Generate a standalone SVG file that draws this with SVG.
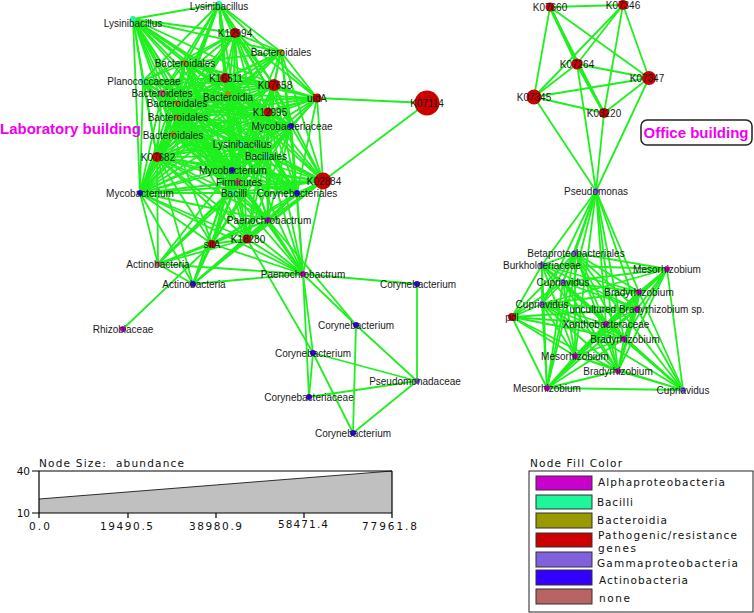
<svg xmlns="http://www.w3.org/2000/svg" width="754" height="613" viewBox="0 0 754 613">
<style>
.e line{stroke:#1EF01E;stroke-width:1.8;fill:none}
text{font-family:"Liberation Sans",Arial,sans-serif}
.node text{font-size:10px;fill:#1a1a1a;text-anchor:middle}
.al{fill:#CC00CC}.ba{fill:#1FF59B}.bd{fill:#999900}.pg{fill:#CC0000}.gm{fill:#8060DD}.ac{fill:#3300FF}.no{fill:#B86464}
text.lg{font-family:"DejaVu Sans","Liberation Sans",sans-serif;font-size:10.5px;fill:#111}
.ax{stroke:#000;stroke-width:1.2;fill:none}
.sw{stroke:#333;stroke-width:1}
</style>
<rect width="754" height="613" fill="#fff"/>
<g id="connectors" class="e">
<line x1="219" y1="4" x2="133" y2="19"/><line x1="219" y1="4" x2="235" y2="33"/><line x1="219" y1="4" x2="281" y2="52"/><line x1="219" y1="4" x2="185" y2="63"/><line x1="219" y1="4" x2="225" y2="78"/><line x1="219" y1="4" x2="274" y2="85"/><line x1="219" y1="4" x2="317" y2="98"/><line x1="219" y1="4" x2="143" y2="81"/><line x1="219" y1="4" x2="162" y2="93"/><line x1="219" y1="4" x2="228" y2="94"/><line x1="219" y1="4" x2="177" y2="103"/><line x1="219" y1="4" x2="177" y2="117"/><line x1="219" y1="4" x2="173" y2="134"/><line x1="219" y1="4" x2="268" y2="112"/><line x1="219" y1="4" x2="291" y2="126"/><line x1="219" y1="4" x2="242" y2="144"/><line x1="219" y1="4" x2="157" y2="157"/><line x1="219" y1="4" x2="232" y2="170"/><line x1="219" y1="4" x2="140" y2="193"/><line x1="219" y1="4" x2="233" y2="193"/>
<line x1="133" y1="19" x2="235" y2="33"/><line x1="133" y1="19" x2="185" y2="63"/><line x1="133" y1="19" x2="225" y2="78"/><line x1="133" y1="19" x2="274" y2="85"/><line x1="133" y1="19" x2="281" y2="52"/><line x1="133" y1="19" x2="143" y2="81"/><line x1="133" y1="19" x2="162" y2="93"/><line x1="133" y1="19" x2="228" y2="94"/><line x1="133" y1="19" x2="177" y2="103"/><line x1="133" y1="19" x2="177" y2="117"/><line x1="133" y1="19" x2="173" y2="134"/><line x1="133" y1="19" x2="268" y2="112"/><line x1="133" y1="19" x2="291" y2="126"/><line x1="133" y1="19" x2="242" y2="144"/><line x1="133" y1="19" x2="266" y2="156"/><line x1="133" y1="19" x2="157" y2="157"/><line x1="133" y1="19" x2="232" y2="170"/><line x1="133" y1="19" x2="140" y2="193"/><line x1="133" y1="19" x2="233" y2="193"/><line x1="133" y1="19" x2="238" y2="182"/>
<line x1="235" y1="33" x2="281" y2="52"/><line x1="235" y1="33" x2="185" y2="63"/><line x1="235" y1="33" x2="225" y2="78"/><line x1="235" y1="33" x2="274" y2="85"/><line x1="235" y1="33" x2="317" y2="98"/><line x1="235" y1="33" x2="143" y2="81"/><line x1="235" y1="33" x2="162" y2="93"/><line x1="235" y1="33" x2="228" y2="94"/><line x1="235" y1="33" x2="177" y2="103"/><line x1="235" y1="33" x2="177" y2="117"/><line x1="235" y1="33" x2="173" y2="134"/><line x1="235" y1="33" x2="268" y2="112"/><line x1="235" y1="33" x2="291" y2="126"/><line x1="235" y1="33" x2="242" y2="144"/><line x1="235" y1="33" x2="266" y2="156"/><line x1="235" y1="33" x2="157" y2="157"/><line x1="235" y1="33" x2="232" y2="170"/><line x1="235" y1="33" x2="140" y2="193"/><line x1="235" y1="33" x2="233" y2="193"/>
<line x1="281" y1="52" x2="225" y2="78"/><line x1="281" y1="52" x2="274" y2="85"/><line x1="281" y1="52" x2="317" y2="98"/><line x1="281" y1="52" x2="228" y2="94"/><line x1="281" y1="52" x2="177" y2="103"/><line x1="281" y1="52" x2="177" y2="117"/><line x1="281" y1="52" x2="268" y2="112"/><line x1="281" y1="52" x2="291" y2="126"/><line x1="281" y1="52" x2="242" y2="144"/><line x1="281" y1="52" x2="157" y2="157"/><line x1="281" y1="52" x2="323" y2="181"/><line x1="281" y1="52" x2="140" y2="193"/><line x1="281" y1="52" x2="185" y2="63"/><line x1="281" y1="52" x2="297" y2="193"/>
<line x1="185" y1="63" x2="225" y2="78"/><line x1="185" y1="63" x2="274" y2="85"/><line x1="185" y1="63" x2="143" y2="81"/><line x1="185" y1="63" x2="162" y2="93"/><line x1="185" y1="63" x2="228" y2="94"/><line x1="185" y1="63" x2="177" y2="103"/><line x1="185" y1="63" x2="177" y2="117"/><line x1="185" y1="63" x2="173" y2="134"/><line x1="185" y1="63" x2="268" y2="112"/><line x1="185" y1="63" x2="291" y2="126"/><line x1="185" y1="63" x2="242" y2="144"/><line x1="185" y1="63" x2="266" y2="156"/><line x1="185" y1="63" x2="157" y2="157"/><line x1="185" y1="63" x2="232" y2="170"/><line x1="185" y1="63" x2="140" y2="193"/><line x1="185" y1="63" x2="233" y2="193"/><line x1="185" y1="63" x2="238" y2="182"/><line x1="185" y1="63" x2="317" y2="98"/>
<line x1="225" y1="78" x2="274" y2="85"/><line x1="225" y1="78" x2="317" y2="98"/><line x1="225" y1="78" x2="143" y2="81"/><line x1="225" y1="78" x2="162" y2="93"/><line x1="225" y1="78" x2="228" y2="94"/><line x1="225" y1="78" x2="177" y2="103"/><line x1="225" y1="78" x2="177" y2="117"/><line x1="225" y1="78" x2="173" y2="134"/><line x1="225" y1="78" x2="268" y2="112"/><line x1="225" y1="78" x2="291" y2="126"/><line x1="225" y1="78" x2="242" y2="144"/><line x1="225" y1="78" x2="266" y2="156"/><line x1="225" y1="78" x2="157" y2="157"/><line x1="225" y1="78" x2="232" y2="170"/><line x1="225" y1="78" x2="140" y2="193"/><line x1="225" y1="78" x2="238" y2="182"/><line x1="225" y1="78" x2="233" y2="193"/><line x1="225" y1="78" x2="323" y2="181"/><line x1="225" y1="78" x2="297" y2="193"/>
<line x1="274" y1="85" x2="317" y2="98"/><line x1="274" y1="85" x2="143" y2="81"/><line x1="274" y1="85" x2="162" y2="93"/><line x1="274" y1="85" x2="228" y2="94"/><line x1="274" y1="85" x2="177" y2="103"/><line x1="274" y1="85" x2="177" y2="117"/><line x1="274" y1="85" x2="173" y2="134"/><line x1="274" y1="85" x2="268" y2="112"/><line x1="274" y1="85" x2="291" y2="126"/><line x1="274" y1="85" x2="242" y2="144"/><line x1="274" y1="85" x2="266" y2="156"/><line x1="274" y1="85" x2="157" y2="157"/><line x1="274" y1="85" x2="232" y2="170"/><line x1="274" y1="85" x2="140" y2="193"/><line x1="274" y1="85" x2="238" y2="182"/><line x1="274" y1="85" x2="233" y2="193"/><line x1="274" y1="85" x2="323" y2="181"/><line x1="274" y1="85" x2="297" y2="193"/><line x1="274" y1="85" x2="268" y2="220"/>
<line x1="317" y1="98" x2="228" y2="94"/><line x1="317" y1="98" x2="177" y2="103"/><line x1="317" y1="98" x2="177" y2="117"/><line x1="317" y1="98" x2="268" y2="112"/><line x1="317" y1="98" x2="291" y2="126"/><line x1="317" y1="98" x2="242" y2="144"/><line x1="317" y1="98" x2="266" y2="156"/><line x1="317" y1="98" x2="232" y2="170"/><line x1="317" y1="98" x2="323" y2="181"/><line x1="317" y1="98" x2="297" y2="193"/><line x1="317" y1="98" x2="233" y2="193"/><line x1="317" y1="98" x2="427" y2="103"/><line x1="317" y1="98" x2="173" y2="134"/><line x1="317" y1="98" x2="157" y2="157"/>
<line x1="143" y1="81" x2="162" y2="93"/><line x1="143" y1="81" x2="228" y2="94"/><line x1="143" y1="81" x2="177" y2="103"/><line x1="143" y1="81" x2="177" y2="117"/><line x1="143" y1="81" x2="173" y2="134"/><line x1="143" y1="81" x2="268" y2="112"/><line x1="143" y1="81" x2="291" y2="126"/><line x1="143" y1="81" x2="242" y2="144"/><line x1="143" y1="81" x2="266" y2="156"/><line x1="143" y1="81" x2="157" y2="157"/><line x1="143" y1="81" x2="232" y2="170"/><line x1="143" y1="81" x2="140" y2="193"/><line x1="143" y1="81" x2="238" y2="182"/><line x1="143" y1="81" x2="233" y2="193"/>
<line x1="162" y1="93" x2="228" y2="94"/><line x1="162" y1="93" x2="177" y2="103"/><line x1="162" y1="93" x2="177" y2="117"/><line x1="162" y1="93" x2="173" y2="134"/><line x1="162" y1="93" x2="268" y2="112"/><line x1="162" y1="93" x2="291" y2="126"/><line x1="162" y1="93" x2="242" y2="144"/><line x1="162" y1="93" x2="266" y2="156"/><line x1="162" y1="93" x2="157" y2="157"/><line x1="162" y1="93" x2="232" y2="170"/><line x1="162" y1="93" x2="140" y2="193"/><line x1="162" y1="93" x2="238" y2="182"/><line x1="162" y1="93" x2="233" y2="193"/><line x1="162" y1="93" x2="297" y2="193"/><line x1="162" y1="93" x2="323" y2="181"/>
<line x1="228" y1="94" x2="177" y2="103"/><line x1="228" y1="94" x2="177" y2="117"/><line x1="228" y1="94" x2="173" y2="134"/><line x1="228" y1="94" x2="268" y2="112"/><line x1="228" y1="94" x2="291" y2="126"/><line x1="228" y1="94" x2="242" y2="144"/><line x1="228" y1="94" x2="266" y2="156"/><line x1="228" y1="94" x2="157" y2="157"/><line x1="228" y1="94" x2="232" y2="170"/><line x1="228" y1="94" x2="140" y2="193"/><line x1="228" y1="94" x2="238" y2="182"/><line x1="228" y1="94" x2="233" y2="193"/><line x1="228" y1="94" x2="297" y2="193"/><line x1="228" y1="94" x2="323" y2="181"/><line x1="228" y1="94" x2="268" y2="220"/>
<line x1="177" y1="103" x2="177" y2="117"/><line x1="177" y1="103" x2="173" y2="134"/><line x1="177" y1="103" x2="268" y2="112"/><line x1="177" y1="103" x2="291" y2="126"/><line x1="177" y1="103" x2="242" y2="144"/><line x1="177" y1="103" x2="266" y2="156"/><line x1="177" y1="103" x2="157" y2="157"/><line x1="177" y1="103" x2="232" y2="170"/><line x1="177" y1="103" x2="140" y2="193"/><line x1="177" y1="103" x2="238" y2="182"/><line x1="177" y1="103" x2="233" y2="193"/><line x1="177" y1="103" x2="297" y2="193"/><line x1="177" y1="103" x2="323" y2="181"/><line x1="177" y1="103" x2="268" y2="220"/>
<line x1="177" y1="117" x2="173" y2="134"/><line x1="177" y1="117" x2="268" y2="112"/><line x1="177" y1="117" x2="291" y2="126"/><line x1="177" y1="117" x2="242" y2="144"/><line x1="177" y1="117" x2="266" y2="156"/><line x1="177" y1="117" x2="157" y2="157"/><line x1="177" y1="117" x2="232" y2="170"/><line x1="177" y1="117" x2="140" y2="193"/><line x1="177" y1="117" x2="238" y2="182"/><line x1="177" y1="117" x2="233" y2="193"/><line x1="177" y1="117" x2="297" y2="193"/><line x1="177" y1="117" x2="323" y2="181"/><line x1="177" y1="117" x2="268" y2="220"/><line x1="177" y1="117" x2="247" y2="239"/>
<line x1="173" y1="134" x2="268" y2="112"/><line x1="173" y1="134" x2="291" y2="126"/><line x1="173" y1="134" x2="242" y2="144"/><line x1="173" y1="134" x2="266" y2="156"/><line x1="173" y1="134" x2="157" y2="157"/><line x1="173" y1="134" x2="232" y2="170"/><line x1="173" y1="134" x2="140" y2="193"/><line x1="173" y1="134" x2="238" y2="182"/><line x1="173" y1="134" x2="233" y2="193"/><line x1="173" y1="134" x2="297" y2="193"/><line x1="173" y1="134" x2="323" y2="181"/><line x1="173" y1="134" x2="268" y2="220"/><line x1="173" y1="134" x2="212" y2="244"/>
<line x1="268" y1="112" x2="291" y2="126"/><line x1="268" y1="112" x2="242" y2="144"/><line x1="268" y1="112" x2="266" y2="156"/><line x1="268" y1="112" x2="157" y2="157"/><line x1="268" y1="112" x2="232" y2="170"/><line x1="268" y1="112" x2="140" y2="193"/><line x1="268" y1="112" x2="238" y2="182"/><line x1="268" y1="112" x2="233" y2="193"/><line x1="268" y1="112" x2="297" y2="193"/><line x1="268" y1="112" x2="323" y2="181"/><line x1="268" y1="112" x2="268" y2="220"/><line x1="268" y1="112" x2="212" y2="244"/><line x1="268" y1="112" x2="247" y2="239"/><line x1="268" y1="112" x2="303" y2="274"/>
<line x1="291" y1="126" x2="242" y2="144"/><line x1="291" y1="126" x2="266" y2="156"/><line x1="291" y1="126" x2="157" y2="157"/><line x1="291" y1="126" x2="232" y2="170"/><line x1="291" y1="126" x2="140" y2="193"/><line x1="291" y1="126" x2="238" y2="182"/><line x1="291" y1="126" x2="233" y2="193"/><line x1="291" y1="126" x2="297" y2="193"/><line x1="291" y1="126" x2="323" y2="181"/><line x1="291" y1="126" x2="268" y2="220"/><line x1="291" y1="126" x2="212" y2="244"/><line x1="291" y1="126" x2="247" y2="239"/><line x1="291" y1="126" x2="303" y2="274"/>
<line x1="242" y1="144" x2="266" y2="156"/><line x1="242" y1="144" x2="157" y2="157"/><line x1="242" y1="144" x2="232" y2="170"/><line x1="242" y1="144" x2="140" y2="193"/><line x1="242" y1="144" x2="238" y2="182"/><line x1="242" y1="144" x2="233" y2="193"/><line x1="242" y1="144" x2="297" y2="193"/><line x1="242" y1="144" x2="323" y2="181"/><line x1="242" y1="144" x2="268" y2="220"/><line x1="242" y1="144" x2="212" y2="244"/><line x1="242" y1="144" x2="247" y2="239"/><line x1="242" y1="144" x2="303" y2="274"/><line x1="242" y1="144" x2="193" y2="284"/>
<line x1="266" y1="156" x2="157" y2="157"/><line x1="266" y1="156" x2="232" y2="170"/><line x1="266" y1="156" x2="140" y2="193"/><line x1="266" y1="156" x2="238" y2="182"/><line x1="266" y1="156" x2="233" y2="193"/><line x1="266" y1="156" x2="297" y2="193"/><line x1="266" y1="156" x2="323" y2="181"/><line x1="266" y1="156" x2="268" y2="220"/><line x1="266" y1="156" x2="212" y2="244"/><line x1="266" y1="156" x2="247" y2="239"/><line x1="266" y1="156" x2="303" y2="274"/><line x1="266" y1="156" x2="158" y2="264"/>
<line x1="157" y1="157" x2="232" y2="170"/><line x1="157" y1="157" x2="140" y2="193"/><line x1="157" y1="157" x2="238" y2="182"/><line x1="157" y1="157" x2="233" y2="193"/><line x1="157" y1="157" x2="297" y2="193"/><line x1="157" y1="157" x2="323" y2="181"/><line x1="157" y1="157" x2="268" y2="220"/><line x1="157" y1="157" x2="212" y2="244"/><line x1="157" y1="157" x2="247" y2="239"/><line x1="157" y1="157" x2="158" y2="264"/><line x1="157" y1="157" x2="193" y2="284"/><line x1="157" y1="157" x2="303" y2="274"/>
<line x1="232" y1="170" x2="140" y2="193"/><line x1="232" y1="170" x2="238" y2="182"/><line x1="232" y1="170" x2="233" y2="193"/><line x1="232" y1="170" x2="297" y2="193"/><line x1="232" y1="170" x2="323" y2="181"/><line x1="232" y1="170" x2="268" y2="220"/><line x1="232" y1="170" x2="212" y2="244"/><line x1="232" y1="170" x2="247" y2="239"/><line x1="232" y1="170" x2="158" y2="264"/><line x1="232" y1="170" x2="193" y2="284"/><line x1="232" y1="170" x2="303" y2="274"/>
<line x1="140" y1="193" x2="238" y2="182"/><line x1="140" y1="193" x2="233" y2="193"/><line x1="140" y1="193" x2="297" y2="193"/><line x1="140" y1="193" x2="323" y2="181"/><line x1="140" y1="193" x2="268" y2="220"/><line x1="140" y1="193" x2="212" y2="244"/><line x1="140" y1="193" x2="247" y2="239"/><line x1="140" y1="193" x2="158" y2="264"/><line x1="140" y1="193" x2="193" y2="284"/><line x1="140" y1="193" x2="303" y2="274"/>
<line x1="238" y1="182" x2="233" y2="193"/><line x1="238" y1="182" x2="297" y2="193"/><line x1="238" y1="182" x2="323" y2="181"/><line x1="238" y1="182" x2="268" y2="220"/><line x1="238" y1="182" x2="212" y2="244"/><line x1="238" y1="182" x2="247" y2="239"/><line x1="238" y1="182" x2="158" y2="264"/><line x1="238" y1="182" x2="193" y2="284"/><line x1="238" y1="182" x2="303" y2="274"/>
<line x1="323" y1="181" x2="233" y2="193"/><line x1="323" y1="181" x2="297" y2="193"/><line x1="323" y1="181" x2="268" y2="220"/><line x1="323" y1="181" x2="212" y2="244"/><line x1="323" y1="181" x2="247" y2="239"/><line x1="323" y1="181" x2="303" y2="274"/><line x1="323" y1="181" x2="427" y2="103"/><line x1="323" y1="181" x2="193" y2="284"/>
<line x1="233" y1="193" x2="297" y2="193"/><line x1="233" y1="193" x2="268" y2="220"/><line x1="233" y1="193" x2="212" y2="244"/><line x1="233" y1="193" x2="247" y2="239"/><line x1="233" y1="193" x2="158" y2="264"/><line x1="233" y1="193" x2="193" y2="284"/><line x1="233" y1="193" x2="303" y2="274"/>
<line x1="297" y1="193" x2="268" y2="220"/><line x1="297" y1="193" x2="212" y2="244"/><line x1="297" y1="193" x2="247" y2="239"/><line x1="297" y1="193" x2="303" y2="274"/><line x1="297" y1="193" x2="193" y2="284"/>
<line x1="268" y1="220" x2="212" y2="244"/><line x1="268" y1="220" x2="247" y2="239"/><line x1="268" y1="220" x2="303" y2="274"/><line x1="268" y1="220" x2="158" y2="264"/><line x1="268" y1="220" x2="193" y2="284"/><line x1="268" y1="220" x2="356" y2="325"/>
<line x1="212" y1="244" x2="247" y2="239"/><line x1="212" y1="244" x2="158" y2="264"/><line x1="212" y1="244" x2="193" y2="284"/><line x1="212" y1="244" x2="303" y2="274"/><line x1="212" y1="244" x2="123" y2="329"/>
<line x1="247" y1="239" x2="158" y2="264"/><line x1="247" y1="239" x2="193" y2="284"/><line x1="247" y1="239" x2="303" y2="274"/><line x1="247" y1="239" x2="313" y2="353"/>
<line x1="158" y1="264" x2="193" y2="284"/><line x1="158" y1="264" x2="303" y2="274"/><line x1="193" y1="284" x2="303" y2="274"/>
<line x1="303" y1="274" x2="417" y2="284"/><line x1="303" y1="274" x2="356" y2="325"/><line x1="303" y1="274" x2="313" y2="353"/><line x1="303" y1="274" x2="309" y2="397"/>
<line x1="417" y1="284" x2="417" y2="381"/><line x1="356" y1="325" x2="417" y2="381"/><line x1="356" y1="325" x2="353" y2="433"/><line x1="313" y1="353" x2="417" y2="381"/><line x1="313" y1="353" x2="353" y2="433"/><line x1="313" y1="353" x2="309" y2="397"/><line x1="309" y1="397" x2="417" y2="381"/><line x1="417" y1="381" x2="353" y2="433"/>
<line x1="550" y1="7" x2="623" y2="5"/><line x1="550" y1="7" x2="577" y2="64" style="stroke-width:3"/><line x1="550" y1="7" x2="649" y2="78"/><line x1="550" y1="7" x2="534" y2="97"/><line x1="550" y1="7" x2="604" y2="113"/>
<line x1="623" y1="5" x2="577" y2="64"/><line x1="623" y1="5" x2="534" y2="97"/><line x1="623" y1="5" x2="649" y2="78"/><line x1="623" y1="5" x2="604" y2="113"/>
<line x1="577" y1="64" x2="649" y2="78"/><line x1="577" y1="64" x2="534" y2="97"/><line x1="577" y1="64" x2="604" y2="113" style="stroke-width:3"/><line x1="577" y1="64" x2="596" y2="191"/>
<line x1="534" y1="97" x2="649" y2="78"/><line x1="534" y1="97" x2="604" y2="113"/><line x1="534" y1="97" x2="596" y2="191"/>
<line x1="649" y1="78" x2="604" y2="113"/><line x1="649" y1="78" x2="596" y2="191"/><line x1="604" y1="113" x2="596" y2="191"/>
<line x1="596" y1="191" x2="542" y2="265"/><line x1="596" y1="191" x2="575" y2="253"/><line x1="596" y1="191" x2="563" y2="282"/><line x1="596" y1="191" x2="542" y2="304"/><line x1="596" y1="191" x2="575" y2="356"/><line x1="596" y1="191" x2="606" y2="324"/><line x1="596" y1="191" x2="618" y2="371"/><line x1="596" y1="191" x2="637" y2="309"/><line x1="596" y1="191" x2="639" y2="292"/><line x1="596" y1="191" x2="624" y2="339"/><line x1="596" y1="191" x2="547" y2="388"/>
<line x1="575" y1="253" x2="542" y2="265"/><line x1="575" y1="253" x2="667" y2="269"/><line x1="575" y1="253" x2="563" y2="282"/><line x1="575" y1="253" x2="639" y2="292"/><line x1="575" y1="253" x2="542" y2="304"/><line x1="575" y1="253" x2="637" y2="309"/><line x1="575" y1="253" x2="512" y2="317"/><line x1="575" y1="253" x2="606" y2="324"/><line x1="575" y1="253" x2="624" y2="339"/><line x1="575" y1="253" x2="575" y2="356"/><line x1="575" y1="253" x2="618" y2="371"/><line x1="575" y1="253" x2="547" y2="388"/><line x1="575" y1="253" x2="683" y2="390"/>
<line x1="542" y1="265" x2="667" y2="269"/><line x1="542" y1="265" x2="563" y2="282"/><line x1="542" y1="265" x2="639" y2="292"/><line x1="542" y1="265" x2="542" y2="304"/><line x1="542" y1="265" x2="637" y2="309"/><line x1="542" y1="265" x2="512" y2="317"/><line x1="542" y1="265" x2="606" y2="324"/><line x1="542" y1="265" x2="624" y2="339"/><line x1="542" y1="265" x2="575" y2="356"/><line x1="542" y1="265" x2="618" y2="371"/><line x1="542" y1="265" x2="547" y2="388"/><line x1="542" y1="265" x2="683" y2="390"/>
<line x1="667" y1="269" x2="563" y2="282"/><line x1="667" y1="269" x2="639" y2="292"/><line x1="667" y1="269" x2="542" y2="304"/><line x1="667" y1="269" x2="637" y2="309"/><line x1="667" y1="269" x2="606" y2="324"/><line x1="667" y1="269" x2="624" y2="339"/><line x1="667" y1="269" x2="575" y2="356"/><line x1="667" y1="269" x2="618" y2="371"/><line x1="667" y1="269" x2="547" y2="388"/><line x1="667" y1="269" x2="683" y2="390"/>
<line x1="563" y1="282" x2="639" y2="292"/><line x1="563" y1="282" x2="542" y2="304"/><line x1="563" y1="282" x2="637" y2="309"/><line x1="563" y1="282" x2="512" y2="317"/><line x1="563" y1="282" x2="606" y2="324"/><line x1="563" y1="282" x2="624" y2="339"/><line x1="563" y1="282" x2="575" y2="356"/><line x1="563" y1="282" x2="618" y2="371"/><line x1="563" y1="282" x2="547" y2="388"/><line x1="563" y1="282" x2="683" y2="390"/>
<line x1="639" y1="292" x2="542" y2="304"/><line x1="639" y1="292" x2="637" y2="309"/><line x1="639" y1="292" x2="606" y2="324"/><line x1="639" y1="292" x2="624" y2="339"/><line x1="639" y1="292" x2="575" y2="356"/><line x1="639" y1="292" x2="618" y2="371"/><line x1="639" y1="292" x2="547" y2="388"/><line x1="639" y1="292" x2="683" y2="390"/>
<line x1="542" y1="304" x2="637" y2="309"/><line x1="542" y1="304" x2="512" y2="317"/><line x1="542" y1="304" x2="606" y2="324"/><line x1="542" y1="304" x2="624" y2="339"/><line x1="542" y1="304" x2="575" y2="356"/><line x1="542" y1="304" x2="618" y2="371"/><line x1="542" y1="304" x2="547" y2="388"/><line x1="542" y1="304" x2="683" y2="390"/>
<line x1="637" y1="309" x2="512" y2="317"/><line x1="637" y1="309" x2="606" y2="324"/><line x1="637" y1="309" x2="624" y2="339"/><line x1="637" y1="309" x2="575" y2="356"/><line x1="637" y1="309" x2="618" y2="371"/><line x1="637" y1="309" x2="547" y2="388"/><line x1="637" y1="309" x2="683" y2="390"/>
<line x1="512" y1="317" x2="606" y2="324"/><line x1="512" y1="317" x2="624" y2="339"/><line x1="512" y1="317" x2="575" y2="356"/><line x1="512" y1="317" x2="618" y2="371"/><line x1="512" y1="317" x2="547" y2="388"/>
<line x1="606" y1="324" x2="624" y2="339"/><line x1="606" y1="324" x2="575" y2="356"/><line x1="606" y1="324" x2="618" y2="371"/><line x1="606" y1="324" x2="547" y2="388"/><line x1="606" y1="324" x2="683" y2="390"/>
<line x1="624" y1="339" x2="575" y2="356"/><line x1="624" y1="339" x2="618" y2="371"/><line x1="624" y1="339" x2="547" y2="388"/><line x1="624" y1="339" x2="683" y2="390"/>
<line x1="575" y1="356" x2="618" y2="371"/><line x1="575" y1="356" x2="547" y2="388"/><line x1="575" y1="356" x2="683" y2="390"/>
<line x1="618" y1="371" x2="547" y2="388"/><line x1="618" y1="371" x2="683" y2="390"/><line x1="547" y1="388" x2="683" y2="390"/>
</g>
<g id="nodes">
<g id="n-lys1" class="node"><circle cx="219" cy="4" r="3" class="ba"/><text x="219" y="9.5">Lysinibacillus</text></g>
<g id="n-lys2" class="node"><circle cx="133" cy="19" r="3" class="ba"/><text x="133" y="26.5">Lysinibacillus</text></g>
<g id="n-k12994" class="node"><circle cx="235" cy="33" r="5" class="pg"/><text x="235" y="36.5">K12994</text></g>
<g id="n-bd1" class="node"><circle cx="281" cy="52" r="3" class="bd"/><text x="281" y="55.5">Bacteroidales</text></g>
<g id="n-bd2" class="node"><circle cx="185" cy="63" r="3" class="bd"/><text x="185" y="66.5">Bacteroidales</text></g>
<g id="n-k16511" class="node"><circle cx="225" cy="78" r="5" class="pg"/><text x="226" y="81.5">K16511</text></g>
<g id="n-k07658" class="node"><circle cx="274" cy="85" r="6" class="pg"/><text x="275" y="88.5">K07658</text></g>
<g id="n-uida" class="node"><circle cx="317" cy="98" r="4.5" class="pg"/><text x="317" y="101.5">uidA</text></g>
<g id="n-k07114" class="node"><circle cx="427" cy="103" r="12.5" class="pg"/><text x="427" y="106.5">K07114</text></g>
<g id="n-plan" class="node"><circle cx="143" cy="81" r="3" class="ba"/><text x="144" y="84.5">Planococcaceae</text></g>
<g id="n-bdt" class="node"><circle cx="162" cy="93" r="3.5" class="no"/><text x="162" y="96.5">Bacteroidetes</text></g>
<g id="n-bdia" class="node"><circle cx="228" cy="94" r="3" class="bd"/><text x="228" y="100.5">Bacteroidia</text></g>
<g id="n-bd3" class="node"><circle cx="177" cy="103" r="3" class="bd"/><text x="177" y="106.5">Bacteroidales</text></g>
<g id="n-bd4" class="node"><circle cx="177" cy="117" r="3" class="bd"/><text x="178" y="121">Bacteroidales</text></g>
<g id="n-bd5" class="node"><circle cx="173" cy="134" r="3" class="bd"/><text x="173" y="138.5">Bacteroidales</text></g>
<g id="n-k12995" class="node"><circle cx="268" cy="112" r="4.5" class="pg"/><text x="270" y="115.5">K12995</text></g>
<g id="n-mycf" class="node"><circle cx="291" cy="126" r="3" class="ac"/><text x="292" y="130">Mycobacteriaceae</text></g>
<g id="n-lys3" class="node"><circle cx="242" cy="144" r="3" class="ba"/><text x="242" y="147.5">Lysinibacillus</text></g>
<g id="n-bcl" class="node"><circle cx="266" cy="156" r="3" class="ba"/><text x="266" y="159.5">Bacillales</text></g>
<g id="n-k07682" class="node"><circle cx="157" cy="157" r="5" class="pg"/><text x="158" y="160.5">K07682</text></g>
<g id="n-myc1" class="node"><circle cx="232" cy="170" r="3" class="ac"/><text x="233" y="173.5">Mycobacterium</text></g>
<g id="n-myc2" class="node"><circle cx="140" cy="193" r="3" class="ac"/><text x="140" y="197">Mycobacterium</text></g>
<g id="n-firm" class="node"><circle cx="238" cy="182" r="3.5" class="no"/><text x="239" y="185.5">Firmicutes</text></g>
<g id="n-k02884" class="node"><circle cx="323" cy="181" r="8.5" class="pg"/><text x="324" y="184.5">K02884</text></g>
<g id="n-bci" class="node"><circle cx="233" cy="193" r="3" class="ba"/><text x="234" y="197">Bacilli</text></g>
<g id="n-cor" class="node"><circle cx="297" cy="193" r="3" class="ac"/><text x="297" y="197">Corynebacteriales</text></g>
<g id="n-p1" class="node"><circle cx="268" cy="220" r="3" class="al"/><text x="269" y="223.5">Paenochrobactrum</text></g>
<g id="n-sita" class="node"><circle cx="212" cy="244" r="4" class="pg"/><text x="212" y="248">sitA</text></g>
<g id="n-k18280" class="node"><circle cx="247" cy="239" r="4.5" class="pg"/><text x="248" y="242.5">K18280</text></g>
<g id="n-act1" class="node"><circle cx="158" cy="264" r="3" class="no"/><text x="158" y="267.5">Actinobacteria</text></g>
<g id="n-act2" class="node"><circle cx="193" cy="284" r="3" class="ac"/><text x="194" y="287.5">Actinobacteria</text></g>
<g id="n-p2" class="node"><circle cx="303" cy="274" r="3" class="al"/><text x="303" y="277.5">Paenochrobactrum</text></g>
<g id="n-c1" class="node"><circle cx="417" cy="284" r="3" class="ac"/><text x="418" y="287.5">Corynebacterium</text></g>
<g id="n-rh" class="node"><circle cx="123" cy="329" r="3" class="al"/><text x="123" y="332.5">Rhizobiaceae</text></g>
<g id="n-c2" class="node"><circle cx="356" cy="325" r="3" class="ac"/><text x="356" y="328.5">Corynebacterium</text></g>
<g id="n-c3" class="node"><circle cx="313" cy="353" r="3" class="ac"/><text x="313" y="356.5">Corynebacterium</text></g>
<g id="n-ps" class="node"><circle cx="417" cy="381" r="3" class="gm"/><text x="415" y="384.5">Pseudomonadaceae</text></g>
<g id="n-cc" class="node"><circle cx="309" cy="397" r="3" class="ac"/><text x="309" y="400.5">Corynebacteriaceae</text></g>
<g id="n-c4" class="node"><circle cx="353" cy="433" r="3" class="ac"/><text x="353" y="436.5">Corynebacterium</text></g>
<g id="n-k07660" class="node"><circle cx="550" cy="7" r="4.5" class="pg"/><text x="550" y="10.5">K07660</text></g>
<g id="n-k07346" class="node"><circle cx="623" cy="5" r="5" class="pg"/><text x="623" y="8.5">K07346</text></g>
<g id="n-k07264" class="node"><circle cx="577" cy="64" r="5.5" class="pg"/><text x="577" y="67.5">K07264</text></g>
<g id="n-k07347" class="node"><circle cx="649" cy="78" r="7" class="pg"/><text x="647" y="81.5">K07347</text></g>
<g id="n-k07345" class="node"><circle cx="534" cy="97" r="7.5" class="pg"/><text x="534" y="100.5">K07345</text></g>
<g id="n-k03220" class="node"><circle cx="604" cy="113" r="5" class="pg"/><text x="604" y="116.5">K03220</text></g>
<g id="n-pseu" class="node"><circle cx="596" cy="191" r="3" class="gm"/><text x="596" y="194.5">Pseudomonas</text></g>
<g id="n-beta" class="node"><circle cx="575" cy="253" r="3" class="gm"/><text x="576" y="256.5">Betaproteobacteriales</text></g>
<g id="n-burk" class="node"><circle cx="542" cy="265" r="3" class="gm"/><text x="542" y="268.5">Burkholderiaceae</text></g>
<g id="n-mesa" class="node"><circle cx="667" cy="269" r="3" class="al"/><text x="667" y="272.5">Mesorhizobium</text></g>
<g id="n-cupa" class="node"><circle cx="563" cy="282" r="3" class="gm"/><text x="563" y="285.5">Cupriavidus</text></g>
<g id="n-brada" class="node"><circle cx="639" cy="292" r="3" class="al"/><text x="639" y="295.5">Bradyrhizobium</text></g>
<g id="n-cupb" class="node"><circle cx="542" cy="304" r="3" class="gm"/><text x="542" y="307.5">Cupriavidus</text></g>
<g id="n-uncb" class="node"><circle cx="637" cy="309" r="3" class="al"/><text x="637" y="312.5">uncultured Bradyrhizobium sp.</text></g>
<g id="n-pdl" class="node"><circle cx="512" cy="317" r="4" class="pg"/><text x="512" y="320.5">pdl</text></g>
<g id="n-xan" class="node"><circle cx="606" cy="324" r="3" class="al"/><text x="606" y="327.5">Xanthobacteraceae</text></g>
<g id="n-bradb" class="node"><circle cx="624" cy="339" r="3" class="al"/><text x="625" y="342.5">Bradyrhizobium</text></g>
<g id="n-mesb" class="node"><circle cx="575" cy="356" r="3" class="al"/><text x="575" y="359.5">Mesorhizobium</text></g>
<g id="n-bradc" class="node"><circle cx="618" cy="371" r="3" class="al"/><text x="618" y="374.5">Bradyrhizobium</text></g>
<g id="n-mesc" class="node"><circle cx="547" cy="388" r="3" class="al"/><text x="547" y="391.5">Mesorhizobium</text></g>
<g id="n-cupc" class="node"><circle cx="683" cy="390" r="3" class="gm"/><text x="683" y="393.5">Cupriavidus</text></g>
</g>
<g id="titles">
<text x="0" y="134" style="font-size:15px;font-weight:bold;fill:#EE00EE">Laboratory building</text>
<rect x="641" y="120" width="111" height="25" rx="6" fill="#fff" stroke="#222" stroke-width="1.5"/>
<text x="696" y="137.5" style="font-size:15px;font-weight:bold;fill:#EE00EE;text-anchor:middle">Office building</text>
</g>
<g id="legend-size">
<text x="39" y="467" class="lg" textLength="145" xml:space="preserve">Node Size:  abundance</text>
<polygon points="39,499 392,471 392,513 39,513" fill="#C0C0C0"/>
<line x1="39" y1="499" x2="392" y2="471" class="ax" style="stroke-width:0.8"/>
<path d="M39 471H392M39 513H392M39 471V518M392 471V518M128 513V518M216 513V518M304 513V518M32 471H39M32 513H39" class="ax"/>
<text x="30" y="475" class="lg" style="text-anchor:end">40</text>
<text x="30" y="517" class="lg" style="text-anchor:end">10</text>
<text x="29" y="530" class="lg" textLength="21">0.0</text>
<text x="100" y="530" class="lg" textLength="53">19490.5</text>
<text x="189" y="530" class="lg" textLength="53">38980.9</text>
<text x="278" y="528" class="lg" textLength="50">58471.4</text>
<text x="362" y="530" class="lg" textLength="55">77961.8</text>
</g>
<g id="legend-color">
<text x="530" y="467" class="lg" textLength="92">Node Fill Color</text>
<rect x="529" y="471" width="224" height="141" fill="#fff" stroke="#222" stroke-width="1"/>
<rect x="536" y="476" width="56" height="14" class="sw" fill="#CC00CC"/>
<text x="598" y="486" class="lg" textLength="127">Alphaproteobacteria</text>
<rect x="536" y="495" width="56" height="14" class="sw" fill="#1FF59B"/>
<text x="597" y="506" class="lg" textLength="36">Bacilli</text>
<rect x="536" y="513" width="56" height="15" class="sw" fill="#999900"/>
<text x="597" y="524" class="lg" textLength="70">Bacteroidia</text>
<rect x="536" y="533" width="56" height="14" class="sw" fill="#CC0000"/>
<text x="598" y="538.5" class="lg" textLength="139">Pathogenic/resistance</text>
<text x="598" y="551.5" class="lg" textLength="38">genes</text>
<rect x="536" y="552" width="56" height="15" class="sw" fill="#8060DD"/>
<text x="597" y="567" class="lg" textLength="141">Gammaproteobacteria</text>
<rect x="536" y="570" width="56" height="15" class="sw" fill="#3300FF"/>
<text x="599" y="584" class="lg" textLength="89">Actinobacteria</text>
<rect x="536" y="589" width="56" height="15" class="sw" fill="#B86464"/>
<text x="599" y="602" class="lg" textLength="31">none</text>
</g>
</svg>
